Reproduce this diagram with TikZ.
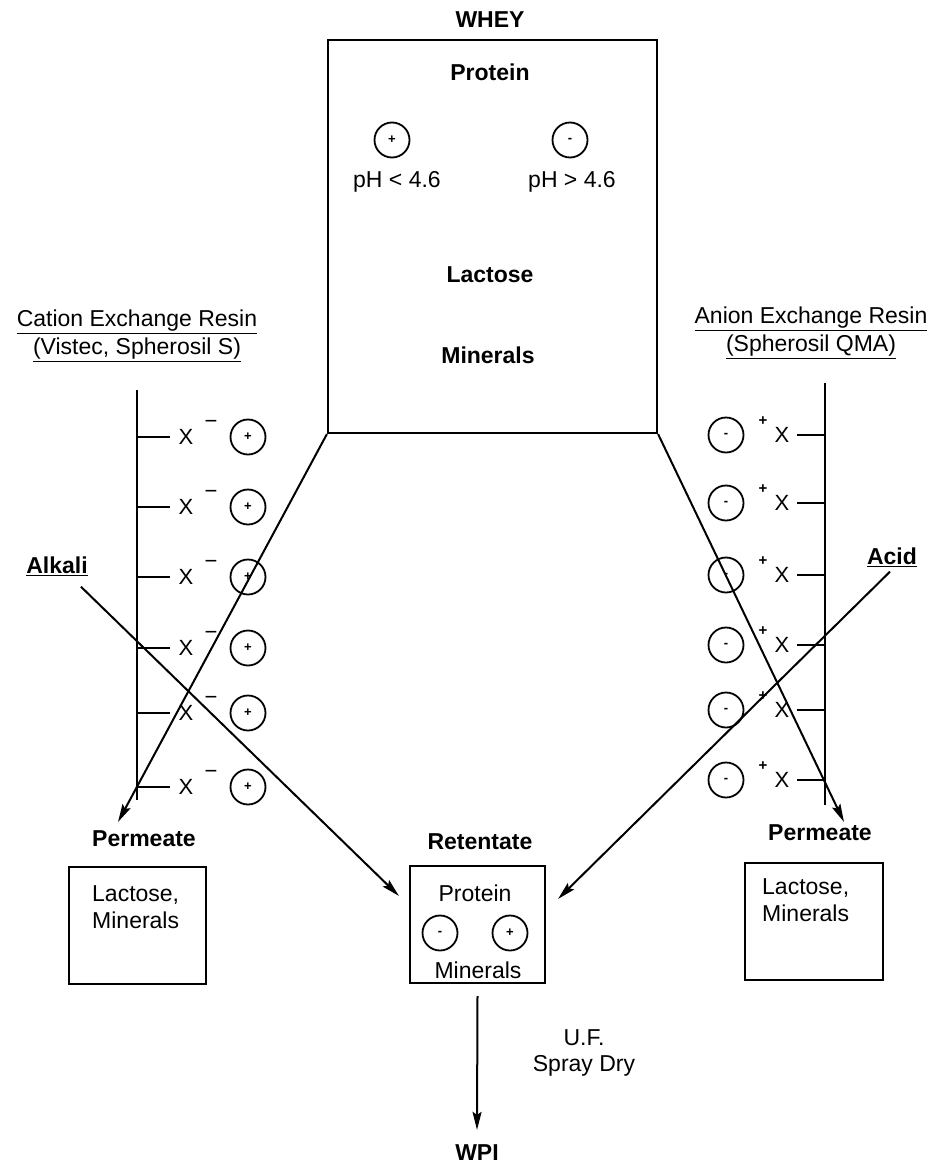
\documentclass[tikz,border=0pt]{standalone}
\usepackage{fontspec}
\setmainfont{Liberation Sans}
\usetikzlibrary{arrows.meta}

\begin{document}
\begin{tikzpicture}[x=1pt, y=-1pt,
    box/.style={rectangle, draw, line width=2.2pt, inner sep=0pt},
    txt/.style={font=\fontsize{23}{28}\selectfont, inner sep=1pt},
    bold/.style={font=\fontsize{23}{28}\selectfont\bfseries, inner sep=1pt},
    ion/.style={circle, draw, line width=1.8pt, minimum size=35pt, inner sep=0pt, font=\fontsize{13}{13}\selectfont\bfseries},
    site/.style={font=\fontsize{22}{22}\selectfont, inner sep=0pt},
    flow/.style={-{Stealth[length=18pt, width=9pt, inset=3pt]}, line width=2pt},
    resin/.style={line width=2pt}
]
\useasboundingbox (0,0) rectangle (941,1167);

% whey
\node[bold] (wheyLbl) at (490,20) {WHEY};
\node[box, minimum width=329, minimum height=393] (whey) at (492.5,236.5) {};
\node[bold] (wheyProt) at (490,72) {Protein};
\node[ion] (posWhey) at (392,140) {+};
\node[ion] (negWhey) at (570,140) {-};
\node[txt] (phLow) at (397,182) {pH < 4.6};
\node[txt] (phHigh) at (572,182) {pH > 4.6};
\node[bold] (wheyLac) at (490,275) {Lactose};
\node[bold] (wheyMin) at (488,355) {Minerals};

% resins
\node[txt, align=center] (cation) at (137,336) {\underline{Cation Exchange Resin}\\\underline{(Vistec, Spherosil S)}};
\node[txt, align=center] (anion) at (811,333) {\underline{Anion Exchange Resin}\\\underline{(Spherosil QMA)}};
\draw[resin] (137,390) -- (137,800);
\draw[resin] (825,383) -- (825,805);
\foreach \y [count=\i] in {437,507,577,648,713,787} {
  \draw[resin] (137,\y) -- (170,\y);
  \node[site] (xc\i) at (186,\y) {X};
  \node[site] at (211,\y-13) {−};
  \node[ion] (cat\i) at (248,\y) {+};
}
\foreach \y [count=\i] in {435,503,575,645,710,780} {
  \draw[resin] (797,\y) -- (825,\y);
  \node[site] (xa\i) at (782,\y) {X};
  \node[site, font=\fontsize{15}{15}\selectfont\bfseries] at (763,\y-14) {+};
  \node[ion] (an\i) at (726,\y) {-};
}

\node[bold] (alkali) at (57,566) {\underline{Alkali}};
\node[bold] (acid) at (892,557) {\underline{Acid}};

% products
\node[bold] (permL) at (144,839) {Permeate};
\node[bold] (retLbl) at (480,842) {Retentate};
\node[bold] (permR) at (820,833) {Permeate};
\node[box, minimum width=137, minimum height=117] (lacL) at (137.5,925.5) {};
\node[txt, align=left, anchor=north west, font=\fontsize{23}{27}\selectfont] at (91,884) {Lactose,\\Minerals};
\node[box, minimum width=138, minimum height=117] (lacR) at (814,921.5) {};
\node[txt, align=left, anchor=north west, font=\fontsize{23}{27}\selectfont] at (761,877) {Lactose,\\Minerals};
\node[box, minimum width=135, minimum height=117] (ret) at (477.5,924.5) {};
\node[txt] (retProt) at (475,893) {Protein};
\node[ion] (retNeg) at (440,933) {-};
\node[ion] (retPos) at (510,933) {+};
\node[txt] (retMin) at (478,970) {Minerals};

\coordinate (dropL) at (118,822);
\coordinate (dropR) at (844,822);
\draw[flow] (whey.south west) -- (dropL);
\draw[flow] (whey.south east) -- (dropR);
\draw[flow] ([xshift=-8pt, yshift=-10pt]alkali.south east) -- ([xshift=-10pt, yshift=-31pt]ret.north west);
\draw[flow] ([xshift=-2pt, yshift=-4pt]acid.south) -- ([xshift=12pt, yshift=-34pt]ret.north east);

\node[bold] (wpi) at (477,1153) {WPI};
\draw[flow] ([yshift=-12pt]ret.south) -- ([yshift=14pt]wpi.north);
\node[txt, align=center, font=\fontsize{23}{26}\selectfont] (uf) at (584,1053) {U.F.\\Spray Dry};
\end{tikzpicture}
\end{document}
